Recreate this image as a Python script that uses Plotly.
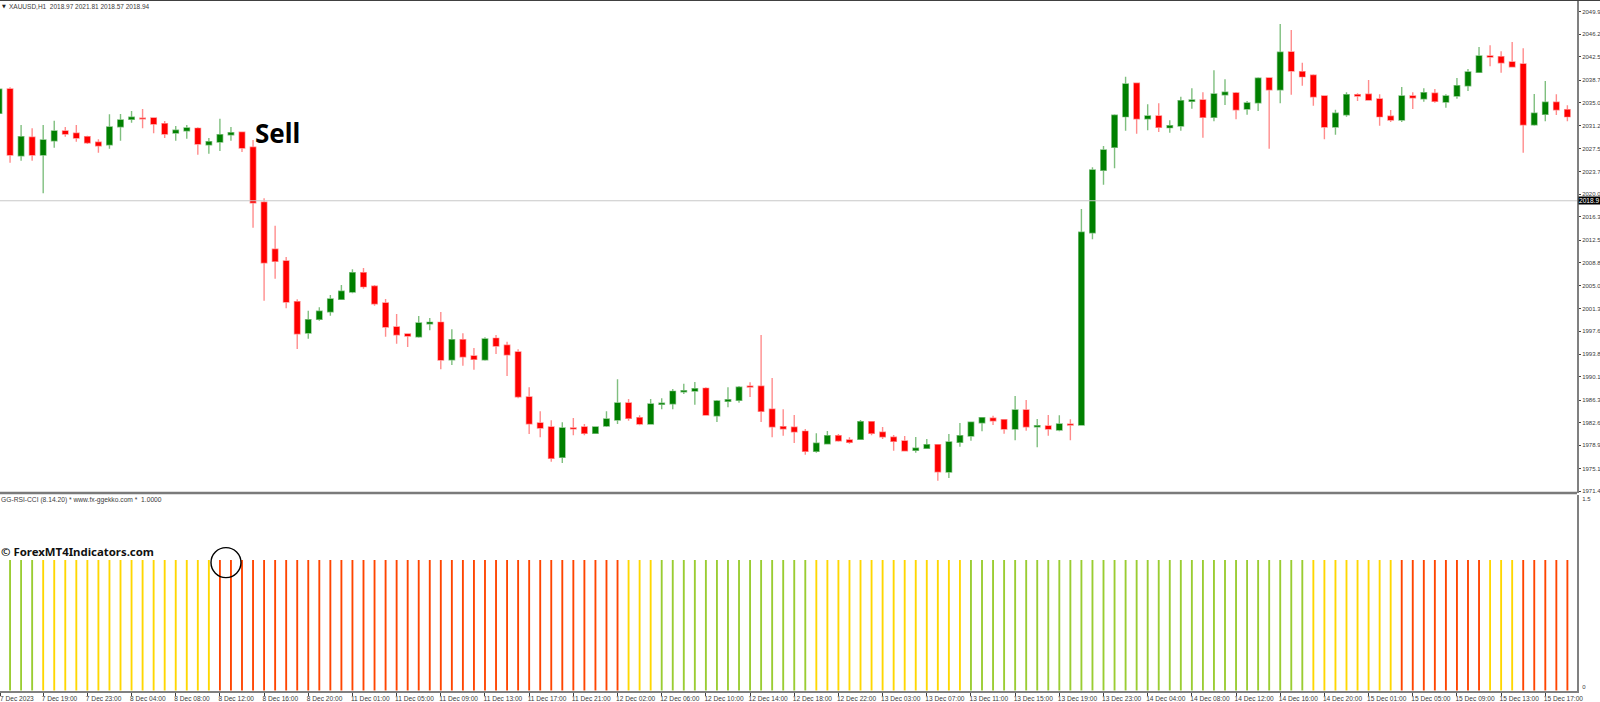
import plotly.graph_objects as go

open_ = [2033.26,2037.24,2026.32,2029.33,2026.43,2028.77,2030.36,2029.99,2029.43,2028.51,
2028.12,2031.07,2032.28,2032.44,2032.49,2031.56,2030.04,2030.41,2030.80,2028.12,
2028.56,2029.76,2030.15,2027.69,2018.69,2010.99,2009.07,2002.41,1997.28,1999.53,
2000.77,2002.80,2004.00,2007.16,2004.93,2002.19,1998.26,1997.12,1996.67,1998.80,
1999.03,1992.91,1996.18,1993.51,1992.91,1996.41,1995.27,1994.17,1986.80,1982.54,
1981.89,1976.92,1981.72,1981.89,1980.85,1982.05,1983.03,1985.82,1983.41,1982.38,
1985.60,1985.70,1987.67,1987.78,1988.22,1983.74,1986.09,1986.26,1988.55,1988.55,
1984.79,1981.94,1981.84,1981.18,1977.91,1979.15,1980.47,1979.76,1979.87,1982.75,
1981.02,1980.20,1979.59,1978.07,1978.40,1978.99,1974.52,1979.38,1980.41,1982.59,
1983.31,1983.08,1981.56,1984.67,1981.94,1982.05,1981.40,1982.33,1982.22,2013.71,
2023.93,2027.69,2032.71,2038.18,2032.38,2032.82,2030.91,2031.19,2035.23,2035.44,
2032.61,2036.31,2036.59,2033.97,2035.00,2039.04,2037.13,2043.30,2040.08,2039.49,
2036.09,2031.02,2033.03,2036.31,2036.37,2035.60,2032.77,2032.16,2036.09,2035.65,
2036.54,2035.11,2036.09,2037.78,2039.98,2042.65,2042.53,2041.66,2041.33,2031.39,
2033.10,2035.06,2033.85]

high = [2037.40,2037.52,2031.35,2030.80,2031.35,2032.05,2031.02,2031.35,2029.59,2029.00,
2033.10,2033.15,2033.64,2033.97,2032.49,2032.00,2031.18,2031.35,2030.97,2029.22,
2032.38,2031.02,2030.20,2028.89,2019.34,2014.85,2009.73,2002.80,2000.93,2001.49,
2003.51,2005.14,2007.72,2007.93,2005.14,2002.85,2000.39,1997.23,2000.07,1999.74,
2000.72,1997.89,1997.23,1994.83,1996.58,1996.95,1995.86,1994.61,1988.39,1984.46,
1982.99,1982.66,1983.36,1982.38,1982.00,1984.46,1989.70,1986.47,1983.80,1986.47,
1986.59,1988.11,1988.98,1989.26,1988.39,1986.31,1988.39,1988.60,1989.21,1996.95,
1989.91,1984.79,1983.85,1981.56,1980.85,1981.23,1980.74,1980.20,1983.03,1982.75,
1981.89,1980.58,1980.41,1980.25,1979.92,1978.99,1980.74,1982.54,1982.75,1983.47,
1983.74,1983.15,1986.96,1986.31,1983.20,1983.85,1983.80,1983.15,2017.59,2024.42,
2027.91,2033.10,2039.26,2038.18,2034.74,2034.90,2032.12,2035.98,2037.36,2036.70,
2040.30,2038.83,2036.75,2035.28,2039.16,2039.04,2047.89,2046.90,2041.55,2039.65,
2036.09,2033.85,2036.70,2036.54,2038.71,2036.37,2033.80,2037.57,2036.70,2037.36,
2037.24,2036.37,2039.04,2040.51,2044.12,2044.40,2043.41,2044.94,2043.91,2036.42,
2038.55,2036.37,2034.57]

low = [2033.26,2025.17,2025.50,2025.50,2020.16,2027.63,2029.43,2028.61,2028.23,2026.81,
2027.46,2028.77,2031.72,2030.80,2029.99,2029.22,2028.77,2029.10,2026.48,2026.65,
2027.09,2028.77,2026.92,2014.53,2002.57,2006.17,2001.33,1994.66,1996.35,1999.30,
2000.12,2002.69,2003.79,2004.54,2001.75,1996.67,1995.53,1994.99,1996.51,1997.73,
1991.34,1992.04,1991.93,1991.27,1992.75,1993.84,1990.24,1986.59,1980.74,1980.20,
1976.21,1975.99,1980.53,1980.53,1980.74,1981.89,1982.38,1982.92,1982.17,1982.33,
1984.79,1984.79,1987.29,1985.54,1983.80,1982.70,1985.11,1985.87,1986.80,1982.70,
1980.20,1980.47,1979.27,1977.35,1977.68,1979.10,1979.48,1979.15,1979.76,1980.53,
1979.92,1978.01,1977.91,1977.68,1978.33,1973.09,1973.53,1978.66,1979.64,1981.18,
1982.22,1980.79,1979.71,1981.28,1978.56,1980.47,1981.18,1979.71,1982.22,2012.63,
2021.57,2024.25,2030.41,2029.92,2030.48,2030.20,2030.08,2030.41,2034.02,2029.27,
2031.95,2034.62,2032.28,2033.03,2033.64,2027.46,2034.90,2036.31,2037.78,2034.51,
2029.00,2029.76,2032.71,2035.28,2035.39,2031.23,2031.84,2031.84,2033.97,2035.16,
2035.00,2034.18,2035.65,2036.91,2039.98,2040.96,2039.91,2040.84,2026.81,2031.23,
2031.95,2032.98,2031.95]

close = [2037.19,2026.43,2029.43,2026.43,2028.89,2030.36,2029.87,2029.22,2028.45,2027.95,
2031.02,2032.16,2032.61,2032.38,2031.51,2029.87,2030.48,2030.85,2028.23,2028.61,
2029.76,2030.08,2027.58,2018.62,2008.79,2009.02,2002.36,1997.17,1999.46,2000.84,
2002.85,2004.11,2007.16,2004.87,2002.08,1998.26,1997.00,1996.79,1998.92,1999.03,
1992.86,1996.18,1993.40,1992.97,1996.30,1995.15,1993.73,1986.85,1982.43,1981.72,
1976.76,1981.72,1981.61,1980.85,1981.89,1983.20,1985.82,1983.31,1982.38,1985.65,
1985.77,1987.73,1987.83,1988.16,1983.85,1986.14,1986.36,1988.39,1988.44,1984.46,
1981.94,1981.61,1981.12,1977.91,1979.22,1980.47,1979.64,1979.38,1982.75,1980.85,
1980.30,1979.55,1978.01,1978.40,1978.99,1974.57,1979.43,1980.47,1982.66,1983.41,
1982.92,1981.56,1984.67,1981.94,1982.10,1981.56,1982.38,1982.22,2013.77,2023.98,
2027.25,2032.94,2038.06,2032.38,2032.82,2030.97,2031.23,2035.33,2035.44,2032.61,
2036.42,2036.70,2033.85,2034.95,2039.00,2037.13,2043.25,2040.19,2039.26,2035.98,
2031.02,2033.26,2036.31,2036.09,2035.44,2032.71,2032.16,2036.09,2035.82,2036.63,
2035.23,2036.09,2037.78,2040.02,2042.65,2042.48,2041.55,2040.89,2031.39,2033.26,
2035.06,2033.85,2032.71]

signal_value = [1.0] * 143
signal_state = ["up"]*4 + ["flat"]*16 + ["down"]*37 + ["flat"]*3 + ["up"]*14 + ["flat"]*14 + \
               ["up"]*31 + ["flat"]*8 + ["down"]*8 + ["flat"]*3 + ["down"]*5
state_colors = {"up": "#9ACD32", "flat": "#FFD700", "down": "#FF4500"}

first_x_label = "7 Dec 2023"
x_labels = ["","7 Dec 19:00","7 Dec 23:00","8 Dec 04:00","8 Dec 08:00","8 Dec 12:00",
"8 Dec 16:00","8 Dec 20:00","11 Dec 01:00","11 Dec 05:00","11 Dec 09:00","11 Dec 13:00",
"11 Dec 17:00","11 Dec 21:00","12 Dec 02:00","12 Dec 06:00","12 Dec 10:00","12 Dec 14:00",
"12 Dec 18:00","12 Dec 22:00","13 Dec 03:00","13 Dec 07:00","13 Dec 11:00","13 Dec 15:00",
"13 Dec 19:00","13 Dec 23:00","14 Dec 04:00","14 Dec 08:00","14 Dec 12:00","14 Dec 16:00",
"14 Dec 20:00","15 Dec 01:00","15 Dec 05:00","15 Dec 09:00","15 Dec 13:00","15 Dec 17:00"]
x_ticks = [0.1] + [4*i for i in range(1, 36)]

price_ticks = [2049.9,2046.2,2042.5,2038.7,2035.0,2031.2,2027.5,2023.7,2020.0,2016.3,2012.5,
2008.8,2005.0,2001.3,1997.6,1993.8,1990.1,1986.3,1982.6,1978.9,1975.1,1971.4]
current_price = 2018.94

W, H = 1600, 702
TXT = "#3a3a3a"
AX = "#808080"
FONT = "Liberation Sans"

fig = go.Figure()
xs = list(range(len(close)))
fig.add_trace(go.Candlestick(
    x=xs, open=open_, high=high, low=low, close=close, yaxis="y", xaxis="x",
    increasing=dict(fillcolor="#008000", line=dict(color="rgba(0,128,0,0.5)", width=1.4)),
    decreasing=dict(fillcolor="#FF0000", line=dict(color="rgba(255,0,0,0.45)", width=1.4)),
    whiskerwidth=0, hoverinfo="skip", showlegend=False))
fig.add_trace(go.Bar(
    x=xs, y=signal_value, yaxis="y2", xaxis="x", width=0.17,
    marker=dict(color=[state_colors[s] for s in signal_state], line=dict(width=0)),
    hoverinfo="skip", showlegend=False))

PLOT_H = 691
fig.update_layout(
    width=W, height=H, margin=dict(l=0, r=23, t=0, b=11, autoexpand=False),
    paper_bgcolor="white", plot_bgcolor="white", showlegend=False, boxgap=0.3,
    font=dict(family=FONT, size=7, color=TXT),
    xaxis=dict(range=[0.09, 142.87], anchor="y2", tickmode="array", tickvals=x_ticks,
               ticktext=x_labels, tickangle=0, ticks="outside", ticklen=3, tickcolor="#404040", tickwidth=1,
               tickfont=dict(family=FONT, size=6.6, color=TXT), ticklabelposition="outside right",
               ticklabelshift=-3, showgrid=False, zeroline=False, showline=True, linecolor=AX,
               linewidth=2, rangeslider=dict(visible=False), fixedrange=True),
    yaxis=dict(domain=[198/PLOT_H, 1], range=[1971.08, 2051.816], side="right", anchor="x",
               tickmode="array", tickvals=price_ticks, ticktext=[f"{v:.1f}" for v in price_ticks],
               ticks="outside", ticklen=2, tickcolor="#404040", tickwidth=1,
               tickfont=dict(family=FONT, size=6.0, color=TXT), showgrid=False, zeroline=False,
               showline=True, linecolor=AX, linewidth=2, fixedrange=True),
    yaxis2=dict(domain=[0, 196.5/PLOT_H], range=[-0.004, 1.502], side="right", anchor="x",
                tickmode="array", tickvals=[1.47, 0.0245], ticktext=["1.5", "0"], ticks="outside",
                ticklen=2, tickcolor="rgba(0,0,0,0)",
                tickfont=dict(family=FONT, size=6.0, color=TXT), showgrid=False, zeroline=False,
                showline=True, linecolor=AX, linewidth=2, fixedrange=True),
    shapes=[
        dict(type="line", xref="paper", yref="y", x0=0, x1=1, y0=current_price, y1=current_price,
             line=dict(color="#c8c8c8", width=1)),
        dict(type="line", xref="paper", yref="paper", x0=0, x1=1, y0=198/PLOT_H, y1=198/PLOT_H,
             line=dict(color="#7a7a7a", width=2.4)),
        dict(type="line", xref="paper", yref="paper", x0=0, x1=W/1577, y0=1, y1=1,
             line=dict(color="#404040", width=2)),
        dict(type="circle", xref="x", yref="y2", xsizemode="pixel", ysizemode="pixel",
             xanchor=20.55, yanchor=0.98, x0=-15, x1=15, y0=-15, y1=15,
             line=dict(color="black", width=1.4)),
    ],
    annotations=[
        dict(text=first_x_label, xref="paper", yref="paper", x=0, xshift=-2, y=1-698/PLOT_H,
             xanchor="left", yanchor="middle", showarrow=False,
             font=dict(family=FONT, size=6.6, color=TXT)),
        dict(text="▼", xref="paper", yref="paper", x=3.5/1577, y=1-6/PLOT_H, xanchor="center",
             yanchor="middle", showarrow=False, font=dict(family="DejaVu Sans", size=5, color="#222")),
        dict(text="XAUUSD,H1\u00a0\u00a02018.97 2021.81 2018.57 2018.94", xref="paper", yref="paper",
             x=7/1577, y=1-6/PLOT_H, xanchor="left", yanchor="middle", showarrow=False,
             font=dict(family=FONT, size=6.5, color=TXT)),
        dict(text="GG-RSI-CCI (8.14.20) * www.fx-ggekko.com *\u00a0\u00a01.0000", xref="paper", yref="paper",
             x=0, xshift=-1.5, y=1-500/PLOT_H, xanchor="left", yanchor="middle", showarrow=False,
             font=dict(family=FONT, size=6.7, color=TXT)),
        dict(text="Sell", xref="paper", yref="paper", x=252.5/1577, y=1-133/PLOT_H, xanchor="left",
             yanchor="middle", showarrow=False, font=dict(family="Noto Sans", size=26, color="black", weight="bold")),
        dict(text="© ForexMT4Indicators.com", xref="paper", yref="paper", x=0, xshift=-1, y=1-551/PLOT_H,
             xanchor="left", yanchor="middle", showarrow=False,
             font=dict(family="Noto Sans", size=11.4, color="#111", weight="bold")),
        dict(text="2018.9", xref="paper", yref="y", x=1, y=current_price, xshift=1, xanchor="left",
             yanchor="middle", showarrow=False, bgcolor="black", borderpad=0,
             font=dict(family=FONT, size=6.6, color="white")),
    ],
)

fig.write_html("out.html", config=dict(displayModeBar=False, staticPlot=True),
               post_script="document.body.style.margin='0';document.body.style.overflow='hidden';")
